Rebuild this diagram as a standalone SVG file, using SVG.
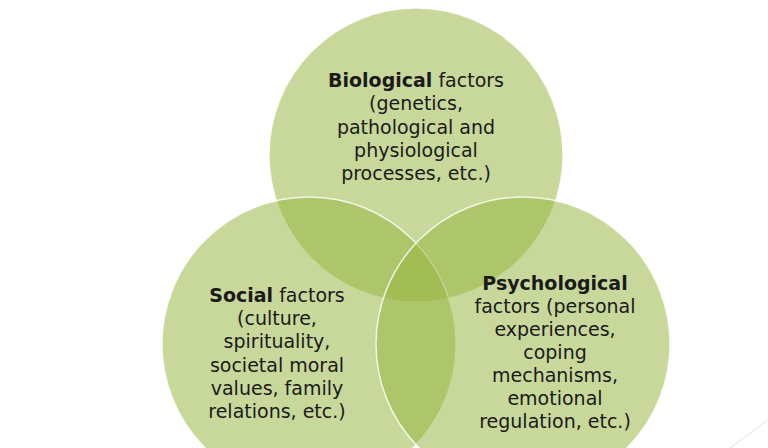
<svg xmlns="http://www.w3.org/2000/svg" width="768" height="448" viewBox="0 0 768 448">
<style>
.c{fill:#97b541;fill-opacity:0.53;stroke:#ffffff;stroke-opacity:0.8;stroke-width:1.5}
.t{font-family:"DejaVu Sans","Liberation Sans",sans-serif;font-size:19px;fill:#1a1a1a;text-anchor:middle}
.b{font-weight:bold}
</style>
<rect width="768" height="448" fill="#ffffff"/>
<line x1="730" y1="448" x2="768" y2="420" stroke="#e0e0e0" stroke-width="1"/>
<g id="biological">
<circle class="c" cx="416" cy="155" r="147"/>
</g>
<g id="social">
<circle class="c" cx="309" cy="344" r="147"/>
</g>
<g id="psychological">
<circle class="c" cx="523" cy="344" r="147"/>
</g>
<g id="labels">
<text class="t" x="416" y="87"><tspan class="b">Biological</tspan> factors</text>
<text class="t" x="416" y="110">(genetics,</text>
<text class="t" x="416" y="134">pathological and</text>
<text class="t" x="416" y="157">physiological</text>
<text class="t" x="416" y="180">processes, etc.)</text>
<text class="t" x="277" y="302"><tspan class="b">Social</tspan> factors</text>
<text class="t" x="277" y="325">(culture,</text>
<text class="t" x="277" y="348">spirituality,</text>
<text class="t" x="277" y="372">societal moral</text>
<text class="t" x="277" y="395">values, family</text>
<text class="t" x="277" y="418">relations, etc.)</text>
<text class="t b" x="555" y="290">Psychological</text>
<text class="t" x="555" y="313">factors (personal</text>
<text class="t" x="555" y="336">experiences,</text>
<text class="t" x="555" y="359">coping</text>
<text class="t" x="555" y="382">mechanisms,</text>
<text class="t" x="555" y="405">emotional</text>
<text class="t" x="555" y="428">regulation, etc.)</text>
</g>
</svg>
